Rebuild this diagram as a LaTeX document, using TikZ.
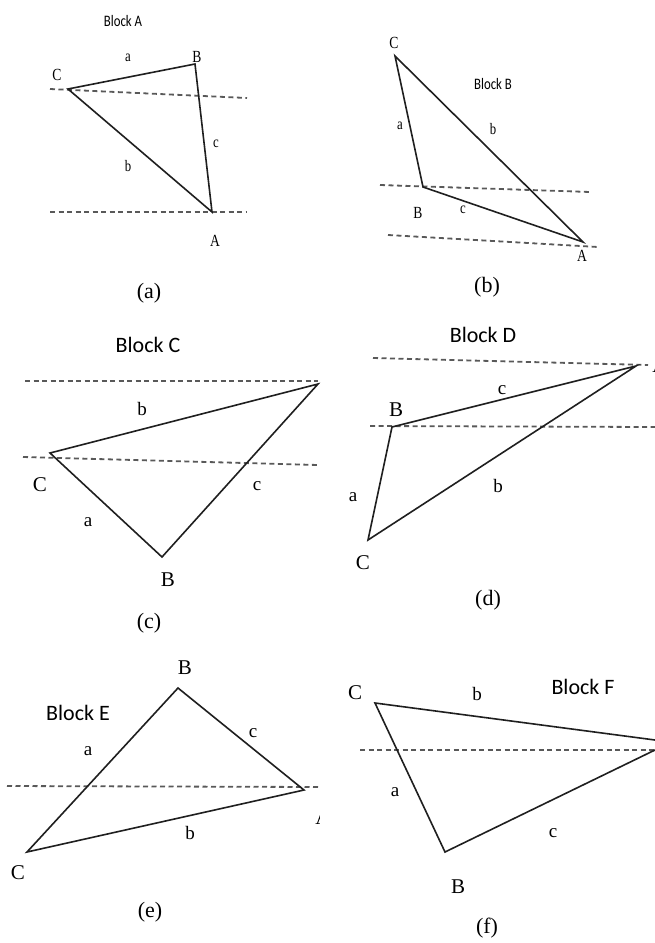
\documentclass[tikz,border=0pt]{standalone}
\usepackage{fontspec}
\setmainfont{Liberation Serif}
\newfontfamily\blockfont{Carlito}
\tikzset{
  tri/.style={draw=black!88, line width=1.6pt, line join=miter},
  guide/.style={draw=black!65, line width=1.8pt, dash pattern=on 5pt off 3.5pt},
  vtop/.style={inner sep=0pt, font=\fontsize{17}{17}\selectfont, xscale=0.8},
  etop/.style={inner sep=0pt, font=\fontsize{16}{16}\selectfont, xscale=0.8},
  btop/.style={inner sep=0pt, font=\blockfont\fontsize{16}{16}\selectfont, xscale=0.8},
  vlbl/.style={inner sep=0pt, font=\fontsize{21}{21}\selectfont},
  elbl/.style={inner sep=0pt, font=\fontsize{19}{19}\selectfont},
  blbl/.style={inner sep=0pt, font=\blockfont\fontsize{22}{22}\selectfont},
  subcap/.style={inner sep=0pt, font=\fontsize{22}{22}\selectfont}
}
\begin{document}
\begin{tikzpicture}[x=1pt,y=-1pt]
\useasboundingbox[fill=white] (0,0) rectangle (655,943);
% ---------- (a) ----------
\coordinate (Ca) at (68,89);
\coordinate (Ba) at (195,64);
\coordinate (Aa) at (212,212);
\coordinate (ga1) at (50,89);  \coordinate (ga2) at (247,98);
\coordinate (ga3) at (50,212); \coordinate (ga4) at (247,212);
\draw[guide] (ga1) -- (ga2);
\draw[guide] (ga3) -- (ga4);
\draw[tri] (Ca) -- (Ba) -- (Aa) -- cycle;
\node[btop] (blkA) at (123,21) {Block A};
\node[vtop] (lCa) at (57,75) {C};
\node[vtop] (lBa) at (197,57) {B};
\node[vtop] (lAa) at (215,241) {A};
\node[etop] (laa) at (128,58) {a};
\node[etop] (lba) at (128,166) {b};
\node[etop] (lca) at (216,144) {c};
\node[subcap] (capa) at (149,293) {(a)};
% ---------- (b) ----------
\coordinate (Cb) at (395,56);
\coordinate (Bb) at (423,187);
\coordinate (Ab) at (583,242);
\coordinate (gb1) at (380,185); \coordinate (gb2) at (590,192);
\coordinate (gb3) at (388,235); \coordinate (gb4) at (598,247);
\draw[guide] (gb1) -- (gb2);
\draw[guide] (gb3) -- (gb4);
\draw[tri] (Cb) -- (Bb) -- (Ab) -- cycle;
\node[btop] (blkB) at (493,84) {Block B};
\node[vtop] (lCb) at (394,43) {C};
\node[vtop] (lBb) at (418,213) {B};
\node[vtop] (lAb) at (582,256) {A};
\node[etop] (lab) at (400,126) {a};
\node[etop] (lbb) at (493,129) {b};
\node[etop] (lcb) at (463,210) {c};
\node[subcap] (capb) at (487,287) {(b)};
% ---------- (c) ----------
\coordinate (Cc) at (50,453);
\coordinate (Bc) at (162,557);
\coordinate (Ac) at (318,384);
\coordinate (gc1) at (25,381); \coordinate (gc2) at (318,381);
\coordinate (gc3) at (23,457); \coordinate (gc4) at (318,465);
\draw[guide] (gc1) -- (gc2);
\draw[guide] (gc3) -- (gc4);
\draw[tri] (Cc) -- (Bc) -- (Ac) -- cycle;
\node[blbl] (blkC) at (148,345) {Block C};
\node[vlbl] (lCc) at (40,485) {C};
\node[vlbl] (lBc) at (168,580) {B};
\node[elbl] (lac) at (88,522) {a};
\node[elbl] (lbc) at (142,409) {b};
\node[elbl] (lcc) at (257,486) {c};
\node[subcap] (capc) at (149,623) {(c)};
% ---------- (d) ----------
\coordinate (Ad) at (636,366);
\coordinate (Bd) at (392,427);
\coordinate (Cd) at (368,540);
\coordinate (gd1) at (373,358); \coordinate (gd2) at (648,365);
\coordinate (gd3) at (370,426); \coordinate (gd4) at (655,427);
\draw[guide] (gd1) -- (gd2);
\draw[guide] (gd3) -- (gd4);
\draw[tri] (Ad) -- (Bd) -- (Cd) -- cycle;
\node[blbl] (blkD) at (483,335) {Block D};
\node[vlbl] (lBd) at (396,410) {B};
\node[vlbl] (lCd) at (363,563) {C};
\node[elbl] (lad) at (353,497) {a};
\node[elbl] (lbd) at (498,486) {b};
\node[elbl] (lcd) at (502,390) {c};
\begin{scope}
  \clip (330,340) rectangle (655,400);
  \node[vlbl] (lAd) at (660,366) {A};
\end{scope}
\node[subcap] (capd) at (488,600) {(d)};
% ---------- (e) ----------
\coordinate (Be) at (178,688);
\coordinate (Ae) at (304,790);
\coordinate (Ce) at (27,852);
\coordinate (ge1) at (7,786); \coordinate (ge2) at (318,787);
\draw[guide] (ge1) -- (ge2);
\draw[tri] (Be) -- (Ae) -- (Ce) -- cycle;
\node[blbl] (blkE) at (78,713) {Block E};
\node[vlbl] (lBe) at (185,668) {B};
\node[vlbl] (lCe) at (18,873) {C};
\node[elbl] (lae) at (88,751) {a};
\node[elbl] (lbe) at (190,833) {b};
\node[elbl] (lce) at (253,733) {c};
\begin{scope}
  \clip (300,800) rectangle (319,840);
  \node[vlbl] (lAe) at (323,818) {A};
\end{scope}
\node[subcap] (cape) at (150,912) {(e)};
% ---------- (f) ----------
\coordinate (Cf) at (375,703);
\coordinate (Bf) at (445,852);
\coordinate (Afb) at (655,740);
\coordinate (Afc) at (655,750);
\coordinate (gf1) at (360,750); \coordinate (gf2) at (655,750);
\draw[guide] (gf1) -- (gf2);
\draw[tri] (Afb) -- (Cf) -- (Bf) -- (Afc);
\node[blbl] (blkF) at (583,687) {Block F};
\node[vlbl] (lCf) at (355,693) {C};
\node[vlbl] (lBf) at (458,887) {B};
\node[elbl] (laf) at (395,792) {a};
\node[elbl] (lbf) at (477,694) {b};
\node[elbl] (lcf) at (553,833) {c};
\node[subcap] (capf) at (487,928) {(f)};
\end{tikzpicture}
\end{document}
